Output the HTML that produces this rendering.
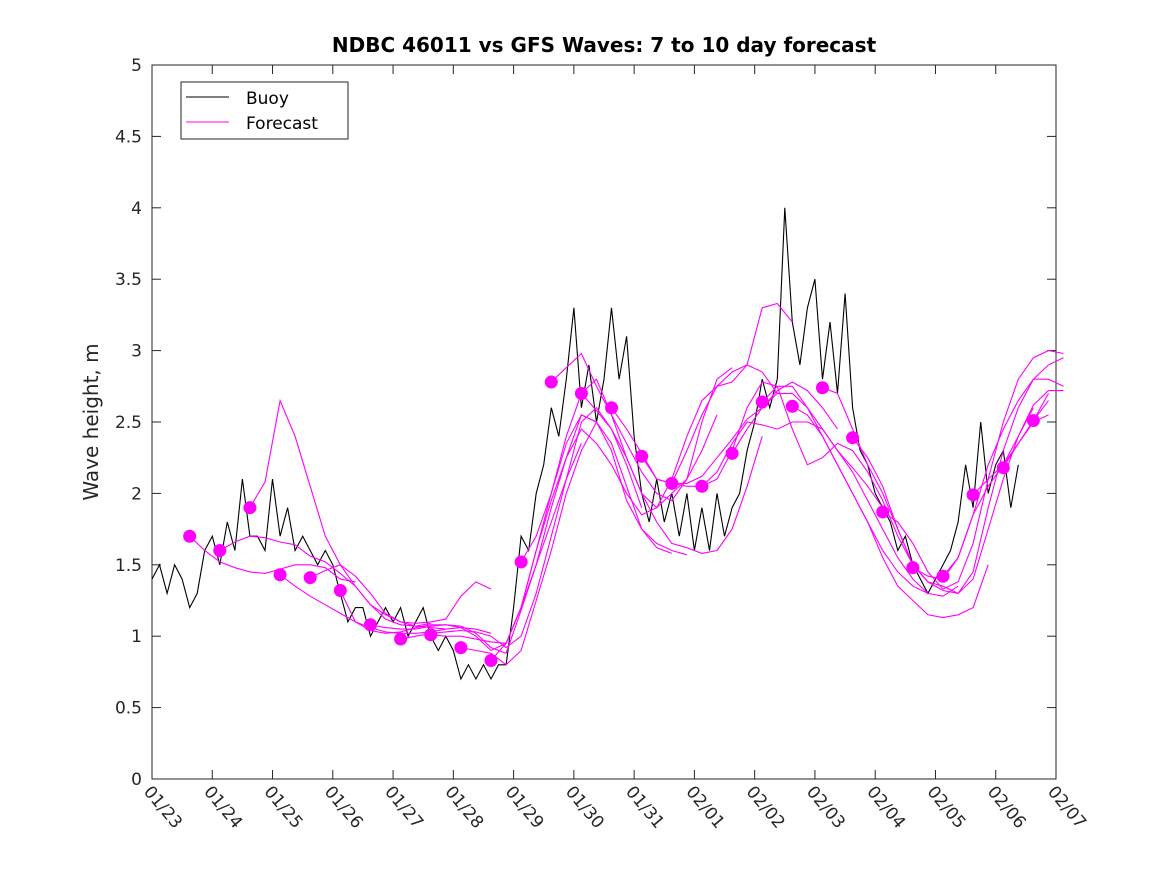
<!DOCTYPE html>
<html><head><meta charset="utf-8"><style>
html,body{margin:0;padding:0;background:#fff;}
svg{display:block;font-family:"DejaVu Sans","Liberation Sans",sans-serif;}
</style></head><body>
<svg id="chart" width="1167" height="875" viewBox="0 0 1167 875" xmlns="http://www.w3.org/2000/svg">
<rect x="0" y="0" width="1167" height="875" fill="#fff"/>
<text x="604" y="52" text-anchor="middle" font-size="20" font-weight="bold" fill="#000">NDBC 46011 vs GFS Waves: 7 to 10 day forecast</text>
<text transform="translate(98,422) rotate(-90)" text-anchor="middle" font-size="20" fill="#262626">Wave height, m</text>
<g id="plot"></g>
<g id="legend">
<rect x="181" y="82" width="167" height="57" fill="#fff" stroke="#262626" stroke-width="1"/>
<line x1="186" y1="97" x2="229" y2="97" stroke="#000" stroke-width="1"/>
<text x="246" y="104" font-size="17" fill="#000">Buoy</text>
<line x1="186" y1="122" x2="229" y2="122" stroke="#ff00ff" stroke-width="1"/>
<text x="246" y="129" font-size="17" fill="#000">Forecast</text>
</g>
</svg>
<script>
const xTickLabels=["01/23","01/24","01/25","01/26","01/27","01/28","01/29","01/30","01/31","02/01","02/02","02/03","02/04","02/05","02/06","02/07"];
const yTicks=[0,0.5,1,1.5,2,2.5,3,3.5,4,4.5,5];
const yTickLabels=["0","0.5","1","1.5","2","2.5","3","3.5","4","4.5","5"];
// buoy: 3-hourly values starting at 01/23 00:00
const buoyStep=0.125;
const buoy=[1.4,1.5,1.3,1.5,1.4,1.2,1.3,1.6,
1.7,1.5,1.8,1.6,2.1,1.7,1.7,1.6,
2.1,1.7,1.9,1.6,1.7,1.6,1.5,1.6,
1.5,1.3,1.1,1.2,1.2,1.0,1.1,1.2,
1.1,1.2,1.0,1.1,1.2,1.0,0.9,1.0,
0.9,0.7,0.8,0.7,0.8,0.7,0.8,0.8,
1.2,1.7,1.6,2.0,2.2,2.6,2.4,2.8,
3.3,2.6,2.9,2.5,2.8,3.3,2.8,3.1,
2.4,2.0,1.8,2.1,1.8,2.0,1.7,2.0,
1.6,1.9,1.6,2.0,1.7,1.9,2.0,2.3,
2.5,2.8,2.6,2.8,4.0,3.2,2.9,3.3,
3.5,2.8,3.2,2.7,3.4,2.6,2.3,2.2,
2.0,1.9,1.8,1.6,1.7,1.5,1.4,1.3,
1.4,1.5,1.6,1.8,2.2,1.9,2.5,2.0,
2.2,2.3,1.9,2.2];
// forecasts: start day, values at 0.25-day steps
const fcStep=0.25;
const fcStart=[0.625,1.125,1.625,2.125,2.625,3.125,3.625,4.125,4.625,5.125,5.625,6.125,6.625,7.125,7.625,8.125,8.625,9.125,9.625,10.125,10.625,11.125,11.625,12.125,12.625,13.125,13.625,14.125,14.625];
const fcValues=[
[1.70,1.60,1.52,1.48,1.45,1.44,1.47,1.50,1.50,1.48,1.40,1.38],
[1.60,1.66,1.70,1.69,1.66,1.64,1.56,1.52,1.44,1.35,1.22,1.12,1.08,1.07,1.09],
[1.90,2.08,2.65,2.40,2.05,1.70,1.50,1.35,1.22,1.15,1.10,1.07,1.06,1.05],
[1.43,1.35,1.28,1.22,1.16,1.10,1.06,1.03,1.02,1.02,1.03,1.05,1.06,1.05,1.02],
[1.41,1.46,1.50,1.42,1.30,1.16,1.10,1.09,1.10,1.12,1.28,1.38,1.33],
[1.32,1.10,1.04,1.02,1.03,1.06,1.08,1.08,1.06,1.00,0.90,0.95,1.20,1.50,1.80,2.10,2.35],
[1.08,1.06,1.05,1.05,1.07,1.08,1.07,1.02,0.92,0.88,1.18,1.50,1.90,2.25,2.55,2.50],
[0.98,1.00,1.02,1.03,1.04,1.03,1.00,0.92,1.00,1.30,1.70,2.10,2.50,2.60,2.45,2.20,1.90],
[1.01,1.00,1.00,0.98,0.96,0.95,1.20,1.60,2.00,2.35,2.55,2.50,2.35,2.05,1.75,1.62,1.58],
[0.92,0.90,0.88,0.80,0.90,1.25,1.60,2.00,2.30,2.50,2.30,1.95,1.75,1.65,1.60,1.57],
[0.83,0.95,1.20,1.60,1.95,2.25,2.45,2.35,2.20,2.00,1.85,1.90,2.00,2.10,2.30,2.55],
[1.52,1.70,2.00,2.40,2.70,2.80,2.55,2.25,2.00,1.80,1.65,1.62,1.58,1.60,1.75,2.05,2.40],
[2.78,2.88,2.98,2.75,2.55,2.35,2.15,2.00,1.95,2.10,2.50,2.80,2.88],
[2.70,2.58,2.45,2.25,2.00,1.90,2.10,2.40,2.65,2.75,2.85,2.90,2.85,2.70],
[2.60,2.45,2.28,2.10,2.07,2.30,2.55,2.75,2.78,2.90,3.30,3.33,3.20],
[2.26,2.10,2.07,2.07,2.12,2.25,2.38,2.52,2.60,2.72,2.78,2.72,2.60,2.45],
[2.07,2.05,2.05,2.15,2.35,2.50,2.48,2.45,2.50,2.50,2.45,2.30,2.18,2.05,1.90],
[2.05,2.10,2.30,2.60,2.78,2.75,2.45,2.20,2.25,2.35,2.30,2.15,1.95,1.70,1.50],
[2.28,2.45,2.60,2.70,2.70,2.60,2.45,2.30,2.15,1.95,1.75,1.55,1.40,1.30],
[2.64,2.75,2.75,2.60,2.40,2.20,2.00,1.80,1.60,1.45,1.35,1.30,1.28,1.35],
[2.61,2.55,2.40,2.20,2.00,1.80,1.55,1.35,1.25,1.15,1.13,1.15,1.20,1.50],
[2.74,2.70,2.45,2.20,2.00,1.75,1.50,1.38,1.32,1.30,1.40,1.75,2.10,2.40,2.60],
[2.39,2.25,2.05,1.75,1.50,1.38,1.35,1.30,1.45,1.90,2.30,2.60,2.80,2.90,2.95],
[1.87,1.80,1.65,1.45,1.33,1.38,1.65,2.10,2.50,2.80,2.95,3.00,2.98],
[1.48,1.42,1.40,1.55,1.85,2.20,2.45,2.65,2.80,2.80,2.75],
[1.42,1.55,1.85,2.05,2.20,2.35,2.50,2.55],
[1.99,2.10,2.20,2.40,2.62,2.72,2.72],
[2.18,2.35,2.51,2.65],
[2.51,2.70]
];
const X0=152,X1=1056,Y0=779,Y1=65,DAYS=15,YMAX=5;
function xs(d){return X0+(X1-X0)*d/DAYS;}
function ys(v){return Y0-(Y0-Y1)*v/YMAX;}
const NS="http://www.w3.org/2000/svg";
const plot=document.getElementById('plot');
function mk(tag,attrs,parent){const e=document.createElementNS(NS,tag);for(const k in attrs)e.setAttribute(k,attrs[k]);(parent||plot).appendChild(e);return e;}
// axes box
const box=mk('rect',{x:X0,y:Y1,width:X1-X0,height:Y0-Y1,fill:'none',stroke:'#262626','stroke-width':1});


yTicks.forEach((v,i)=>{
  const y=ys(v);
  mk('line',{x1:X0,y1:y,x2:X0+9,y2:y,stroke:'#262626'});
  mk('line',{x1:X1,y1:y,x2:X1-9,y2:y,stroke:'#262626'});
  const t=mk('text',{x:X0-10,y:y+6,'text-anchor':'end','font-size':17,fill:'#262626'});
  t.textContent=yTickLabels[i];
  
  
});
xTickLabels.forEach((lab,i)=>{
  const x=xs(i);
  mk('line',{x1:x,y1:Y0,x2:x,y2:Y0-9,stroke:'#262626'});
  mk('line',{x1:x,y1:Y1,x2:x,y2:Y1+9,stroke:'#262626'});
  const t=mk('text',{x:0,y:0,transform:`translate(${x-9},${Y0+13}) rotate(50)`,'font-size':17,fill:'#262626'});
  t.textContent=lab;
  
  
});
// buoy line
const bp=buoy.map((v,i)=>`${xs(i*buoyStep).toFixed(1)},${ys(v).toFixed(1)}`).join(' ');
const bl=mk('polyline',{points:bp,fill:'none',stroke:'#000','stroke-width':1.1});


// forecast lines
fcValues.forEach((vals,k)=>{
  const pts=vals.map((v,i)=>`${xs(fcStart[k]+i*fcStep).toFixed(1)},${ys(v).toFixed(1)}`).join(' ');
  const pl=mk('polyline',{points:pts,fill:'none',stroke:'#ff00ff','stroke-width':1.1});
  
  
});
fcValues.forEach((vals,k)=>{
  const c=mk('circle',{cx:xs(fcStart[k]),cy:ys(vals[0]),r:6.5,fill:'#ff00ff'});
  
  
});
</script>
</body></html>
